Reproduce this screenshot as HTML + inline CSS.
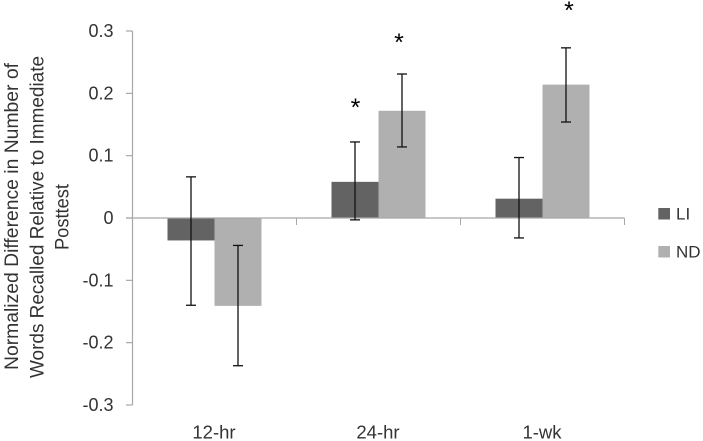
<!DOCTYPE html>
<html>
<head>
<meta charset="utf-8">
<style>
html,body{margin:0;padding:0;background:#fff;width:703px;height:441px;overflow:hidden}
svg{display:block;filter:blur(0.35px)}
text{font-family:"Liberation Sans",sans-serif;fill:#333}
</style>
</head>
<body>
<svg id="chart" width="703" height="441" viewBox="0 0 703 441" xmlns="http://www.w3.org/2000/svg"></svg>
<script>
const categories = ['12-hr', '24-hr', '1-wk'];
const seriesNames = ['LI', 'ND'];
const liValues = [-0.036, 0.058, 0.031];
const ndValues = [-0.141, 0.172, 0.214];
const liErrorTop = [0.066, 0.122, 0.097];
const liErrorBottom = [-0.14, -0.003, -0.032];
const ndErrorTop = [-0.044, 0.231, 0.273];
const ndErrorBottom = [-0.237, 0.114, 0.154];
const yTicks = [0.3, 0.2, 0.1, 0, -0.1, -0.2, -0.3];
const yTickLabels = ['0.3', '0.2', '0.1', '0', '-0.1', '-0.2', '-0.3'];
const yTitleLines = ['Normalized Difference in Number of', 'Words Recalled Relative to Immediate', 'Posttest'];

const svg = document.getElementById('chart');
const NS = 'http://www.w3.org/2000/svg';
const plotLeft = 132.5, catWidth = 164, barWidth = 47, axisColor = '#a8a8a8';
const seriesColors = ['#636363', '#b0b0b0'];
function yScale(v) { return 218 + (0 - v) * 623.3; }
function catCenter(i) { return plotLeft + catWidth * (i + 0.5); }
function make(tag, attrs, text) {
  const el = document.createElementNS(NS, tag);
  for (const k in attrs) el.setAttribute(k, attrs[k]);
  if (text !== undefined) el.textContent = text;
  svg.appendChild(el);
  return el;
}

// y axis
let el = make('line', {x1: plotLeft, x2: plotLeft, y1: yScale(0.3), y2: yScale(-0.3), stroke: axisColor, 'stroke-width': 1.2});



yTicks.forEach(function (t, i) {
  const tick = make('line', {x1: plotLeft - 6.5, x2: plotLeft, y1: yScale(t), y2: yScale(t), stroke: axisColor, 'stroke-width': 1.2});
  
  
  const label = make('text', {x: 113.5, y: yScale(t) + 6, 'text-anchor': 'end', 'font-size': 18}, yTickLabels[i]);
  
  
});

// bars
function drawBars(values, seriesIndex) {
  values.forEach(function (v, i) {
    const x = catCenter(i) - barWidth + seriesIndex * barWidth;
    const y0 = yScale(0), y1 = yScale(v);
    const bar = make('rect', {x: x, y: Math.min(y0, y1), width: barWidth, height: Math.abs(y1 - y0), fill: seriesColors[seriesIndex]});
    
    
  });
}
drawBars(liValues, 0);
drawBars(ndValues, 1);

// x axis drawn over bars
el = make('line', {x1: plotLeft - 6.5, x2: plotLeft + catWidth * 3, y1: yScale(0), y2: yScale(0), stroke: axisColor, 'stroke-width': 1.2});



categories.forEach(function (c, i) {
  const tx = plotLeft + catWidth * (i + 1);
  const tick = make('line', {x1: tx, x2: tx, y1: yScale(0), y2: yScale(0) + 7, stroke: axisColor, 'stroke-width': 1});
  
  
  const label = make('text', {x: catCenter(i) - 0.5, y: 438.5, 'text-anchor': 'middle', 'font-size': 18.5}, c);
  
  
});

// error bars
function drawErrors(tops, bottoms, seriesIndex) {
  tops.forEach(function (t, i) {
    const x = catCenter(i) - barWidth / 2 + seriesIndex * barWidth;
    const yt = yScale(t), yb = yScale(bottoms[i]);
    const stem = make('line', {x1: x, x2: x, y1: yt, y2: yb, stroke: '#111', 'stroke-width': 1.3});
    
    
    const capTop = make('line', {x1: x - 5, x2: x + 5, y1: yt, y2: yt, stroke: '#111', 'stroke-width': 1.3});
    
    
    const capBottom = make('line', {x1: x - 5, x2: x + 5, y1: yb, y2: yb, stroke: '#111', 'stroke-width': 1.3});
    
    
  });
}
drawErrors(liErrorTop, liErrorBottom, 0);
drawErrors(ndErrorTop, ndErrorBottom, 1);

// significance stars
[[355.5, 116], [399, 51], [569, 19]].forEach(function (p) {
  const star = make('text', {x: p[0], y: p[1], 'text-anchor': 'middle', 'font-size': 25});
  star.textContent = '*';
  star.style.fill = '#000';
  
  
});

// y title
[[18, 216.5, 307], [43.5, 217, 322], [68.5, 217, 66]].forEach(function (p, i) {
  const attrs = {transform: 'translate(' + p[0] + ',' + p[1] + ') rotate(-90)', 'text-anchor': 'middle', 'font-size': 19.5, textLength: p[2], lengthAdjust: 'spacingAndGlyphs'};
  const line = make('text', attrs, yTitleLines[i]);
  
  
});

// legend
seriesNames.forEach(function (n, i) {
  const ly = 208 + i * 38;
  const sw = make('rect', {x: 658.3, y: ly, width: 11.7, height: 11.5, fill: seriesColors[i]});
  
  
  const t = make('text', {x: 676, y: ly + 11.5, 'font-size': 17}, n);
  
  
});
</script>
</body>
</html>
